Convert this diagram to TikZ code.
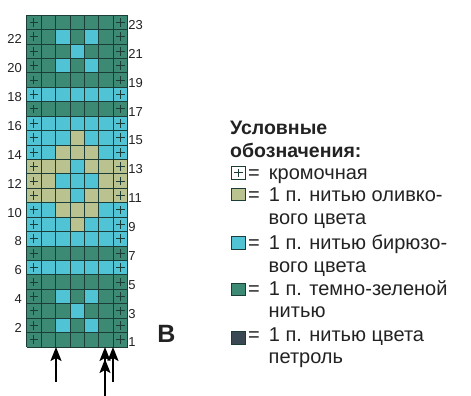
\documentclass[tikz,border=0pt]{standalone}
\usepackage{fontspec}
\setmainfont{Liberation Sans}
\usetikzlibrary{arrows.meta}
\definecolor{dkgreen}{RGB}{60,138,116}
\definecolor{turq}{RGB}{80,196,212}
\definecolor{oliveyarn}{RGB}{186,195,144}
\definecolor{petrol}{RGB}{58,72,84}
\definecolor{gridline}{RGB}{28,60,56}
\definecolor{inktext}{RGB}{34,34,34}
\begin{document}
\begin{tikzpicture}[x=1pt,y=1pt,
    cellline/.style={gridline,line width=0.8pt},
    plusmark/.style={gridline,line width=0.9pt},
    rownum/.style={inner sep=0pt,text=inktext,font=\fontsize{13}{13}\selectfont},
    legtext/.style={inner sep=0pt,anchor=base west,text=inktext,font=\fontsize{20}{20}\selectfont},
    swatch/.style={draw=gridline,line width=0.6pt,minimum width=14pt,minimum height=12.5pt,inner sep=0pt,anchor=south west},
    pointer/.style={line width=1.8pt,-{Stealth[length=14pt,width=11pt,inset=3pt]}}]
\useasboundingbox (0,0) rectangle (471,396);

\begin{scope}[shift={(26.7,49)},x=14.4pt,y=14.43pt]
\foreach \r/\clr in {1/dkgreen,2/dkgreen,3/dkgreen,4/dkgreen,5/dkgreen,6/turq,7/dkgreen,8/turq,9/turq,10/turq,11/oliveyarn,12/oliveyarn,13/oliveyarn,14/turq,15/turq,16/turq,17/dkgreen,18/turq,19/dkgreen,20/dkgreen,21/dkgreen,22/dkgreen,23/dkgreen}
{
    \fill[\clr] (0,\r-1) rectangle ++(7,1);
}
\foreach \c/\r in {3/2,5/2,4/3,3/4,5/4,4/11,3/12,4/12,5/12,4/13,3/20,5/20,4/21,3/22,5/22}
{
    \fill[turq] (\c-1,\r-1) rectangle ++(1,1);
}
\foreach \c/\r in {4/9,3/10,4/10,5/10,3/14,4/14,5/14,4/15}
{
    \fill[oliveyarn] (\c-1,\r-1) rectangle ++(1,1);
}
\draw[cellline,step=1] (0,0) grid (7,23);
\foreach \r in {1,...,23}
{
    \foreach \c in {0.5,6.5}
    {
        \draw[plusmark] (\c-0.3,\r-0.5) -- ++(0.6,0) (\c,\r-0.8) -- ++(0,0.6);
    }
}
\foreach \r in {1,3,...,23}
{
    \node[rownum,anchor=base west] (num\r) at (7.05,\r-1) {\r};
}
\foreach \r in {2,4,...,22}
{
    \node[rownum,anchor=base east] (num\r) at (-0.33,\r-1) {\r};
}
\end{scope}

\node[inner sep=0pt,text=inktext,font=\bfseries\fontsize{25}{25}\selectfont] (panel) at (166.5,62) {В};

% arrows under the chart
\coordinate (tailA) at (56,14);
\coordinate (tipA) at (56,49);
\coordinate (tailB) at (113,14);
\coordinate (tipB) at (113,49);
\coordinate (tailC) at (105,0);
\coordinate (tipC) at (105,49);
\coordinate (tipD) at (105,37);
\draw[pointer] (tailA) -- (tipA);
\draw[pointer] (tailB) -- (tipB);
\draw[pointer] (tailC) -- (tipC);
\draw[pointer] (tailC) -- (tipD);

% legend
\node[legtext,font=\bfseries\fontsize{19.5}{20}\selectfont] (title1) at (230,261) {Условные};
\node[legtext,font=\bfseries\fontsize{19.5}{20}\selectfont] (title2) at (230,238.5) {обозначения:};

\node[swatch,fill=white] (key1) at (231,216.5) {};
\draw[plusmark] ([xshift=-4.2pt]key1.center) -- ([xshift=4.2pt]key1.center)
    ([yshift=-4.2pt]key1.center) -- ([yshift=4.2pt]key1.center);
\node[legtext] (text1) at (248,216.5) {=\hspace{9pt}кромочная};

\node[swatch,fill=oliveyarn] (key2) at (231,195) {};
\node[legtext] (text2) at (248,194) {=\hspace{9pt}1 п. нитью оливко-};
\node[legtext] (text2b) at (268.5,171) {вого цвета};

\node[swatch,fill=turq] (key3) at (231,146.5) {};
\node[legtext] (text3) at (248,146) {=\hspace{9pt}1 п. нитью бирюзо-};
\node[legtext] (text3b) at (268.5,123) {вого цвета};

\node[swatch,fill=dkgreen] (key4) at (231,100) {};
\node[legtext] (text4) at (248,100.5) {=\hspace{9pt}1 п. темно-зеленой};
\node[legtext] (text4b) at (268.5,78) {нитью};

\node[swatch,fill=petrol] (key5) at (231,51.5) {};
\node[legtext] (text5) at (248,54) {=\hspace{9pt}1 п. нитью цвета};
\node[legtext] (text5b) at (268.5,32) {петроль};
\end{tikzpicture}
\end{document}
